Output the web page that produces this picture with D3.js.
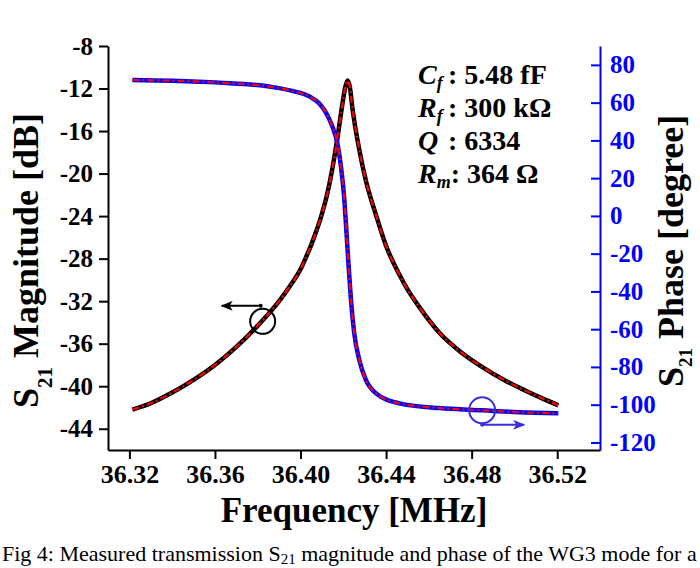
<!DOCTYPE html>
<html><head><meta charset="utf-8">
<script src="https://cdn.jsdelivr.net/npm/d3@7"></script>
<style>
html,body{margin:0;padding:0;background:#fff;}
svg{display:block;}
text{font-family:"Liberation Serif","Times New Roman",serif;}
</style></head>
<body>
<svg id="chart" width="700" height="568"></svg>
<script>
// ---- data ----
const magFreq = [36.3214, 36.33, 36.34, 36.35, 36.36, 36.37, 36.38, 36.39, 36.395, 36.40, 36.4025, 36.405, 36.41, 36.4125, 36.415, 36.4173, 36.4197, 36.421, 36.422, 36.423, 36.4243, 36.4275, 36.4306, 36.4353, 36.44, 36.4462, 36.45, 36.455, 36.465, 36.475, 36.485, 36.496, 36.505, 36.5125, 36.5205];
const magDb   = [-42.2, -41.6, -40.6, -39.4, -38.0, -36.3, -34.3, -32.0, -30.6, -29.0, -27.9, -26.7, -23.8, -21.9, -19.4, -16.6, -13.3, -11.8, -11.25, -11.8, -13.9, -17.8, -20.7, -23.9, -26.8, -29.5, -30.9, -32.4, -35.0, -36.8, -38.2, -39.5, -40.4, -41.1, -41.8];
const phFreq  = [36.3214, 36.34, 36.362, 36.3854, 36.3962, 36.4041, 36.4088, 36.4125, 36.4149, 36.4172, 36.4189, 36.4205, 36.4215, 36.4225, 36.4236, 36.4251, 36.4275, 36.4306, 36.4353, 36.4462, 36.4649, 36.485, 36.5022, 36.5205];
const phDeg   = [72.0, 71.6, 70.6, 68.5, 66.2, 63.3, 59.5, 53.5, 47.3, 38.6, 26.0, 8.4, -9.0, -27.0, -44.7, -62.0, -76.5, -87.0, -94.0, -99.3, -101.8, -103.0, -104.0, -104.6];

const xTicks   = [36.32, 36.36, 36.40, 36.44, 36.48, 36.52];
const xMinor   = [36.34, 36.38, 36.42, 36.46, 36.50, 36.54];
const magTicks = [-8, -12, -16, -20, -24, -28, -32, -36, -40, -44];
const magMinor = [-10, -14, -18, -22, -26, -30, -34, -38, -42, -46];
const phTicks  = [80, 60, 40, 20, 0, -20, -40, -60, -80, -100, -120];
const phMinor  = [90, 70, 50, 30, 10, -10, -30, -50, -70, -90, -110];

const paramLabels = ["C", "R", "Q", "R"];
const paramSubs   = ["f", "f", "", "m"];
const paramValues = [": 5.48 fF", ": 300 k\u03A9", ": 6334", ": 364 \u03A9"];

// annotation markers (data coordinates)
const magMarker = {f: 36.3823, v: -33.9};
const phMarker  = {f: 36.4849, v: -103.0};

// ---- layout ----
const L = 108, R = 600, T = 46, B = 450;
const BLUE = "#0000ff";
const svg = d3.select("#chart");

const x = d3.scaleLinear().domain([36.31, 36.54]).range([L, R]);
const yM = d3.scaleLinear().domain([-46, -8]).range([B, T]);
const yP = d3.scaleLinear().domain([-124, 90]).range([B, T]);
const fmtInt = d => String(d);   // plain hyphen-minus like the reference

function styleAxis(g, color, fs){
  g.select(".domain").attr("stroke", color).attr("stroke-width", 2);
  g.selectAll(".tick line").attr("stroke", color).attr("stroke-width", 2);
  g.selectAll(".tick text").attr("fill", color).attr("font-size", fs).attr("font-weight", "bold")
    .attr("font-family", "'Liberation Serif', serif");
}
// x axis
const gx = svg.append("g").attr("transform", `translate(0,${B})`);
gx.call(d3.axisBottom(x).tickValues(xMinor).tickSize(5).tickFormat(""));
gx.call(d3.axisBottom(x).tickValues(xTicks).tickSize(9).tickPadding(6).tickFormat(d3.format(".2f")).tickSizeOuter(0));
styleAxis(gx, "#000", 26);

// left axis
const gl = svg.append("g").attr("transform", `translate(${L},0)`);
gl.call(d3.axisLeft(yM).tickValues(magMinor).tickSize(5).tickFormat(""));
gl.call(d3.axisLeft(yM).tickValues(magTicks).tickSize(9).tickPadding(6).tickFormat(fmtInt).tickSizeOuter(0));
styleAxis(gl, "#000", 25);

// right axis (ticks inward)
const gr = svg.append("g").attr("transform", `translate(${R},0)`);
gr.call(d3.axisLeft(yP).tickValues(phMinor).tickSize(5).tickFormat("").tickSizeOuter(0));
gr.call(d3.axisLeft(yP).tickValues(phTicks).tickSize(9).tickFormat(fmtInt).tickSizeOuter(0));
styleAxis(gr, BLUE, 25);
gr.selectAll(".tick text").attr("text-anchor", "start").attr("x", 10);

// curves
const magData = magFreq.map((f,i)=>({f, v: magDb[i]}));
const phData  = phFreq.map((f,i)=>({f, v: phDeg[i]}));
const lineM = d3.line().x(d=>x(d.f)).y(d=>yM(d.v)).curve(d3.curveMonotoneX);
const lineP = d3.line().x(d=>x(d.f)).y(d=>yP(d.v)).curve(d3.curveMonotoneX);

svg.append("path").attr("d", lineM(magData)).attr("fill","none").attr("stroke","#000").attr("stroke-width",4.5);
svg.append("path").attr("d", lineP(phData)).attr("fill","none").attr("stroke",BLUE).attr("stroke-width",4.5);
svg.append("path").attr("d", lineM(magData)).attr("fill","none").attr("stroke","#ff0000").attr("stroke-width",2.2).attr("stroke-dasharray","7,3,2,3");
svg.append("path").attr("d", lineP(phData)).attr("fill","none").attr("stroke","#ff0000").attr("stroke-width",2.2).attr("stroke-dasharray","7,3,2,3");

// markers
const defs = svg.append("defs");
function arrowHead(id, color){
  defs.append("marker").attr("id", id).attr("viewBox","0 0 12 10").attr("refX",11).attr("refY",5)
    .attr("markerWidth",12).attr("markerHeight",10).attr("markerUnits","userSpaceOnUse").attr("orient","auto")
    .append("path").attr("d","M0,0 L12,5 L0,10 L3,5 Z").attr("fill", color);
}
arrowHead("ahBlack", "#000");
arrowHead("ahBlue", "#3a2de6");

const mx = x(magMarker.f), my = yM(magMarker.v);
svg.append("circle").attr("cx", mx).attr("cy", my).attr("r", 12.5).attr("fill","none").attr("stroke","#000").attr("stroke-width",2);
svg.append("line").attr("x1", mx-2).attr("y1", my-15.5).attr("x2", mx-41).attr("y2", my-15.5)
  .attr("stroke","#000").attr("stroke-width",2).attr("marker-end","url(#ahBlack)");
svg.append("circle").attr("cx", mx-2).attr("cy", my-15.5).attr("r", 2).attr("fill","#000");

const px = x(phMarker.f), py = yP(phMarker.v);
svg.append("circle").attr("cx", px).attr("cy", py).attr("r", 13).attr("fill","none").attr("stroke","#3a2de6").attr("stroke-width",2);
svg.append("line").attr("x1", px).attr("y1", py+14.5).attr("x2", px+42).attr("y2", py+14.5)
  .attr("stroke","#3a2de6").attr("stroke-width",2).attr("marker-end","url(#ahBlue)");
svg.append("circle").attr("cx", px).attr("cy", py+14.5).attr("r", 2).attr("fill","#3a2de6");

// parameter block
paramLabels.forEach((lab,i)=>{
  const yb = 84 + i*33;
  const t = svg.append("text").attr("x", 418).attr("y", yb)
    .attr("font-size", 28).attr("font-weight","bold");
  t.append("tspan").attr("font-style","italic").text(lab);
  if (paramSubs[i]) t.append("tspan").attr("font-style","italic").attr("font-size",18).attr("dy",5).text(paramSubs[i]);
  const v = t.append("tspan").attr("y", yb).text(paramValues[i]);
  if (i < 3) v.attr("x", 448);
});

// axis titles
svg.append("text").attr("x", (L+R)/2).attr("y", 522).attr("text-anchor","middle")
  .attr("font-size", 35).attr("font-weight","bold").text("Frequency [MHz]");

function vTitle(bx, startY, main, fs, subFs, subDy){
  const t = svg.append("text").attr("transform", `translate(${bx},${startY}) rotate(-90)`)
    .attr("text-anchor","start").attr("font-size", fs).attr("font-weight","bold");
  t.append("tspan").text("S");
  t.append("tspan").attr("font-size", subFs).attr("dy", subDy).text("21");
  t.append("tspan").attr("dy", -subDy).text(" " + main);
}
vTitle(38, 408, "Magnitude [dB]", 36, 21, 14);
vTitle(683, 387, "Phase [degree]", 36, 19, 9);

// caption
const cap = svg.append("text").attr("x", 2).attr("y", 561).attr("font-size", 22);
cap.append("tspan").text("Fig 4: Measured transmission S");
cap.append("tspan").attr("font-size", 15).attr("dy", 3).text("21");
cap.append("tspan").attr("dy", -3).text(" magnitude and phase of the WG3 mode for a");
</script>
</body></html>
